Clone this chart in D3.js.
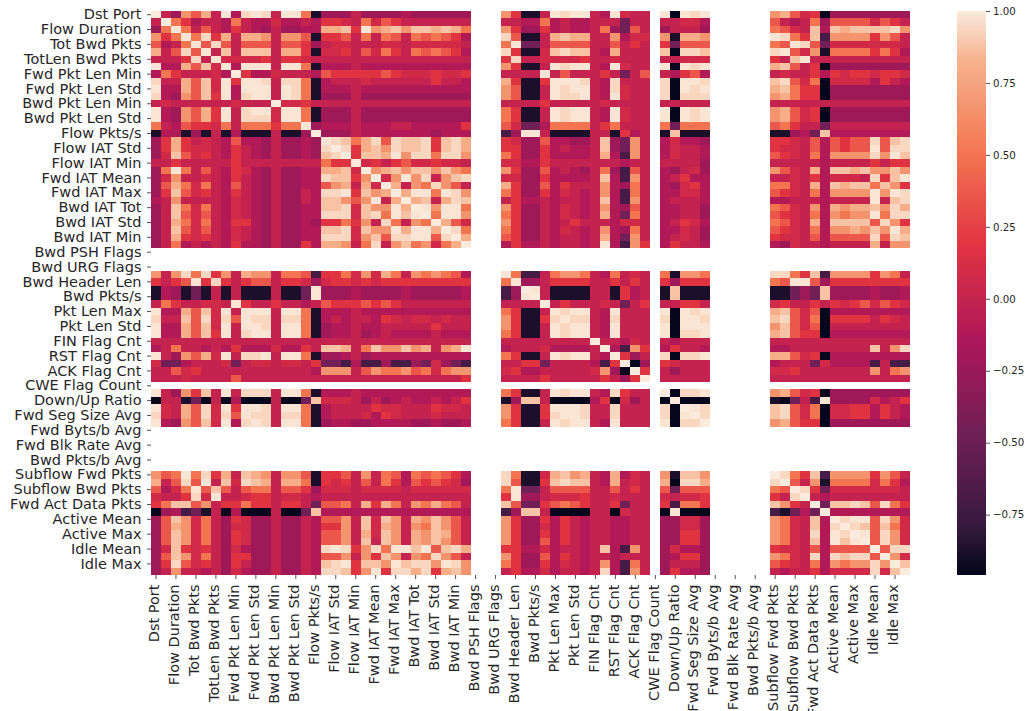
<!DOCTYPE html>
<html>
<head>
<meta charset="utf-8">
<script src="https://cdnjs.cloudflare.com/ajax/libs/d3/7.8.5/d3.min.js"></script>
<style>
    body { margin: 0; background: #fff; overflow: hidden; }
    svg { display: block; }
    .axis text { font-family: "DejaVu Sans", sans-serif; fill: #262626; }
    .axis line { stroke: #262626; stroke-width: 0.8; }
    .cell { shape-rendering: crispEdges; }
</style>
</head>
<body>
<svg id="chart"></svg>
<script>
// all 76 columns of the matrix, only every second one gets a tick label
const features = ["Dst Port", "Protocol", "Flow Duration", "Tot Fwd Pkts", "Tot Bwd Pkts", "TotLen Fwd Pkts", "TotLen Bwd Pkts",
    "Fwd Pkt Len Max", "Fwd Pkt Len Min", "Fwd Pkt Len Mean", "Fwd Pkt Len Std", "Bwd Pkt Len Max", "Bwd Pkt Len Min", "Bwd Pkt Len Mean", "Bwd Pkt Len Std",
    "Flow Byts/s", "Flow Pkts/s", "Flow IAT Mean", "Flow IAT Std", "Flow IAT Max", "Flow IAT Min",
    "Fwd IAT Tot", "Fwd IAT Mean", "Fwd IAT Std", "Fwd IAT Max", "Fwd IAT Min", "Bwd IAT Tot", "Bwd IAT Mean", "Bwd IAT Std", "Bwd IAT Max", "Bwd IAT Min",
    "Fwd PSH Flags", "Bwd PSH Flags", "Fwd URG Flags", "Bwd URG Flags", "Fwd Header Len", "Bwd Header Len", "Fwd Pkts/s", "Bwd Pkts/s",
    "Pkt Len Min", "Pkt Len Max", "Pkt Len Mean", "Pkt Len Std", "Pkt Len Var",
    "FIN Flag Cnt", "SYN Flag Cnt", "RST Flag Cnt", "PSH Flag Cnt", "ACK Flag Cnt", "URG Flag Cnt", "CWE Flag Count", "ECE Flag Cnt",
    "Down/Up Ratio", "Pkt Size Avg", "Fwd Seg Size Avg", "Bwd Seg Size Avg",
    "Fwd Byts/b Avg", "Fwd Pkts/b Avg", "Fwd Blk Rate Avg", "Bwd Byts/b Avg", "Bwd Pkts/b Avg", "Bwd Blk Rate Avg",
    "Subflow Fwd Pkts", "Subflow Fwd Byts", "Subflow Bwd Pkts", "Subflow Bwd Byts", "Fwd Act Data Pkts", "Fwd Seg Size Min",
    "Active Mean", "Active Std", "Active Max", "Active Min", "Idle Mean", "Idle Std", "Idle Max", "Idle Min"];

// these have no variance, so the correlation is NaN and the cells stay white
const emptyFeatures = ["Bwd PSH Flags", "Fwd URG Flags", "Bwd URG Flags", "CWE Flag Count",
    "Fwd Byts/b Avg", "Fwd Pkts/b Avg", "Fwd Blk Rate Avg", "Bwd Byts/b Avg", "Bwd Pkts/b Avg", "Bwd Blk Rate Avg"];

// correlation, one letter per level
const levels = { a: -0.95, b: -0.88, c: -0.7, d: -0.47, e: -0.22, f: -0.12, g: 0, h: 0.08, i: 0.18,
    j: 0.36, k: 0.5, l: 0.67, m: 0.8, n: 0.88, o: 0.94, p: 0.98, q: 1 };

const colorbarTicks = [-0.75, -0.5, -0.25, 0, 0.25, 0.5, 0.75, 1];
const valueRange = [-0.96, 1];

// upper triangle, one line per feature that has data, starting at the diagonal
const upperRows = [
    "qgeljmgpfopogppkb eeegeeeefeeeeee libbgpoppgfphgg papop lmjhiaeeeeeeee",
    "qkifggfkgffhffgf iihgkhjiggggggg ggffkfgffgggdgg gghhf jgfgkejjjjhjig",
    "pkgjgfigfegeeff mmniplmnlnnmnmk lieeifgffgkedjg eggge kjhgnfnmnnnnol",
    "pkoimgmmlglljb iijgkgkjgkjkjif ojbbgmnmmgglfhh lbmml pokinclllliljg",
    "pjojgjjjgjjie ghhggghhghhhhhg kpddgjjjjggjgig idjjj kjpojdhhhhhhhg",
    "pgngnnngmmib hhigjhkigkjkjif oibbhnonngfmggg naoon opjhlbkkkkikif",
    "phhhhigiihg ggggggggggggggg iogghhhhigghggg gghhh ignpgggggggggg",
    "pfpppgppkb fffgfffffffffff libbgpoppgfphgg papop mnjgiaeeeeeeee",
    "qiffhgggf jiiiiijihhhihhi ggggpgjgggigdgj gfijf ghggifihiihiih",
    "ppogookb fggghggggggiggf mibbipppogfoggg oappo nojhkahhhhfigf",
    "ppgpokb fffgfffffffffff ljbbgpoppgfohgg oapop mnkiiaeeeeeeee",
    "pgpokb eeegeeeeeeeeeee ljbbgpoopgfphgg oaooo lmkiiaeeeeeeee",
    "qhhig ggggggggggggggg ggggiggggghgggg ggggg gggggggggggggg",
    "ppkb eeegeeeeeeeeeee kibbgpoppgfphgg papop lmjhiaeeeeeeee",
    "pkb eeegeeeeeeeeeee kibbgpoppgfphgg papop lmjhiaeeeeeeee",
    "pe fffgfffggfffffi jhddfkkkkgikggg kdkkk jkiggdgggggggg",
    "q eeegfffffffefff ceppgbbbbggbifg bnbbb bbefdnffffffff",
    "ponkmojonnoinom iheejffeegnedlg fhffe iihgjfjijjojno",
    "qoimnlonnoinom iieeifgffgnedlg fhggf ihhgjfjijjpjoo",
    "qinnmplookool kieeiffffgmfclg fhggf jihgkfllllolpn",
    "qhigijhhihhg hhffigggggggfgg gggge gggggfggggigii",
    "qlmnlnnlnlk lieejfgfegkecjg feghe ljhgmfnnmnllnl",
    "qhlploglno hheeiffffgnfclg fgiff gghgifhhhgoinp",
    "qmglkoljg mieejfiggglfekg fehif kkhgmfnmnnknli",
    "qmppkpol kieeifhgfglfckg ffhhf jihgkfllllplpo",
    "qmngmon giffgfggfgnfclg fgggf ffgggfggggpgno",
    "qplppk lieegfhgfglfejg ffgge kjhglfmlmmnlom",
    "qkppl kieegfhgfgmfdkg ffgge jihgkflkllpkoo",
    "qmjh lieegfgigggfhhg fgihf kjhgmfnnnnjoli",
    "qok kieegfhgfglfekg ffhge jihgkfllmlnlpm",
    "qm jieegfggfgmfdlg fghge ihhgjfjjjjojon",
    "q fiffgfggfgpfcli figgf fehggfggggmgll",
    "pkccgkllkgfkghg kbllk ookincllllilkg",
    "peegiiiiggigig ieiii kjppjeiiiiiiii",
    "qpgbbbbggbifg bnbbb bbdedneeeefeef",
    "qgbbbbggbifg bnbbb bbdedneeeefeef",
    "qgiggghgdgi ggiig higgigihijhjih",
    "poppgfpggg papop mnjhjaffffffff",
    "poogfoggg oappo nojhkaiiiigihg",
    "ppgfpggg pappp lnjhjagggggggg",
    "pgfpggg paoop mnjiiaffffffff",
    "qggfhg gfggg gggggggggggggg",
    "qfcli figgf ffggggggggnglo",
    "qieg oaoop mmjhiaffffffff",
    "qae ihggg fgggdhffffcgcc",
    "qi geggg hhiggggggglgkl",
    "q ggggg gggggggggggggg",
    "qaoop lmjhiaeeeeeeee",
    "qaaa badgcpeeeehfgi",
    "qpo nojhkahhiifigf",
    "qo nojhkahhiifigf",
    "q lmjiiaeeeeeeee",
    "qokinclllliljg",
    "qjglbkkkkhkif",
    "qoidhhhhhhhg",
    "qgfgggggggg",
    "qdnnonjoki",
    "qffffffff",
    "qoppjolh",
    "qonjnkh",
    "qpjolh",
    "qjolh",
    "qjoo",
    "qlh",
    "qn",
    "q"
];

class heatMap {
    constructor(_config, _features, _rows) {
        this.config = {
            parentElement: _config.parentElement,
            containerWidth: 1035,
            containerHeight: 711,
            margin: { top: 11, left: 151 },
            width: 759,
            height: 564,
            barLeft: 957,
            barWidth: 29
        }
        this.features = _features;
        this.rows = _rows;
        this.initVis();
    }

    initVis() {
        let vis = this;

        vis.svg = d3.select(vis.config.parentElement)
            .attr('width', vis.config.containerWidth)
            .attr('height', vis.config.containerHeight);

        vis.chart = vis.svg.append('g')
            .attr('transform', `translate(${vis.config.margin.left},${vis.config.margin.top})`);

        vis.xScale = d3.scaleBand().domain(vis.features).range([0, vis.config.width]);
        vis.yScale = d3.scaleBand().domain(vis.features).range([0, vis.config.height]);

        // seaborn "rocket" colour map
        vis.rocket = ["#03051a", "#35193e", "#701f57", "#ad1759", "#e13342", "#f37651", "#f6b48f", "#faebdd"];
        vis.rocketPos = [0, 0.0833, 0.25, 0.4167, 0.5833, 0.75, 0.9167, 1];
        vis.rocketScale = d3.scaleLinear().domain(vis.rocketPos).range(vis.rocket);
        vis.colorScale = d3.scaleLinear().domain(valueRange).range([0, 1]);

        vis.updateVis();
    }

    updateVis() {
        let vis = this;

        // mirror the triangle so each cell is drawn from one value
        const valid = vis.features.filter(f => !emptyFeatures.includes(f));
        vis.cells = [];
        vis.rows.forEach((row, i) => {
            const letters = row.replace(/ /g, "");
            if (letters.length != valid.length - i) throw new Error("row " + i + " has " + letters.length);
            letters.split("").forEach((ch, k) => {
                const a = valid[i], b = valid[i + k];
                vis.cells.push({ row: a, col: b, value: levels[ch] });
                if (a != b) vis.cells.push({ row: b, col: a, value: levels[ch] });
            });
        });

        vis.renderVis();
    }

    renderVis() {
        let vis = this;

        vis.chart.selectAll('.cell')
            .data(vis.cells)
            .join('rect')
            .attr('class', 'cell')
            .attr('x', d => vis.xScale(d.col))
            .attr('y', d => vis.yScale(d.row))
            .attr('width', vis.xScale.bandwidth())
            .attr('height', vis.yScale.bandwidth())
            .attr('fill', d => vis.rocketScale(vis.colorScale(d.value)));

        const tickNames = vis.features.filter((f, i) => i % 2 == 0);

        const xAxisG = vis.chart.append('g')
            .attr('class', 'axis')
            .attr('transform', `translate(0,${vis.config.height})`)
            .call(d3.axisBottom(vis.xScale).tickValues(tickNames).tickSize(4).tickPadding(3))
            .call(g => g.select('.domain').remove());

        xAxisG.selectAll('text')
            .style('font-size', '14.5px')
            .attr('transform', 'rotate(-90)')
            .attr('text-anchor', 'end')
            .attr('x', -9.5)
            .attr('y', 0)
            .attr('dy', '.22em');

        vis.chart.append('g')
            .attr('class', 'axis')
            .call(d3.axisLeft(vis.yScale).tickValues(tickNames).tickSize(4).tickPadding(5.5))
            .call(g => g.select('.domain').remove())
            .selectAll('text')
            .style('font-size', '14.5px');

        // colour bar
        const grad = vis.svg.append('defs').append('linearGradient')
            .attr('id', 'rocketGrad')
            .attr('x1', 0).attr('x2', 0).attr('y1', 1).attr('y2', 0);
        vis.rocketPos.forEach((p, i) => {
            grad.append('stop').attr('offset', p).attr('stop-color', vis.rocket[i]);
        });

        vis.svg.append('rect')
            .attr('x', vis.config.barLeft)
            .attr('y', vis.config.margin.top)
            .attr('width', vis.config.barWidth)
            .attr('height', vis.config.height)
            .attr('fill', 'url(#rocketGrad)');

        const barScale = d3.scaleLinear().domain(valueRange).range([vis.config.height, 0]);
        vis.svg.append('g')
            .attr('class', 'axis')
            .attr('transform', `translate(${vis.config.barLeft + vis.config.barWidth},${vis.config.margin.top})`)
            .call(d3.axisRight(barScale).tickValues(colorbarTicks).tickFormat(d3.format(".2f")).tickSize(4).tickPadding(3))
            .call(g => g.select('.domain').remove())
            .selectAll('text')
            .style('font-size', '10.2px');
    }
}

new heatMap({ parentElement: '#chart' }, features, upperRows);
</script>
</body>
</html>
